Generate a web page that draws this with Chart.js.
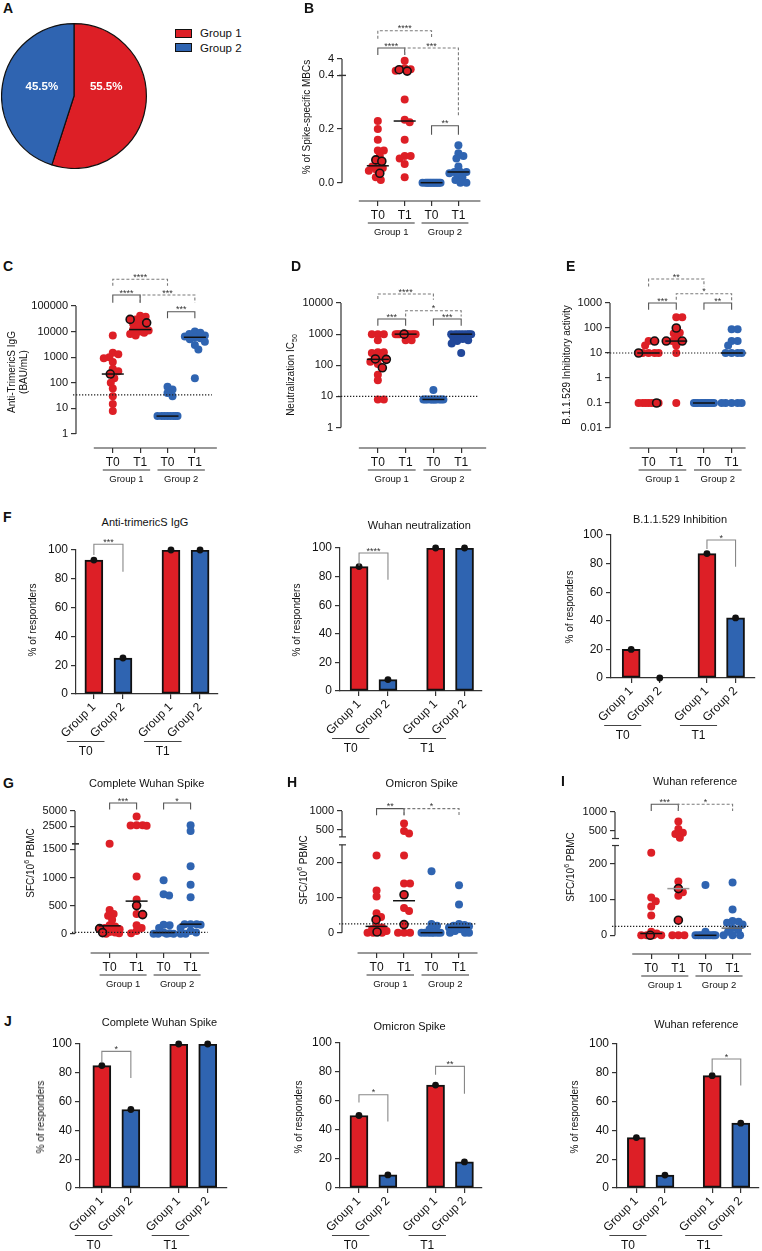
<!DOCTYPE html>
<html>
<head>
<meta charset="utf-8">
<script src="https://cdn.jsdelivr.net/npm/chart.js@4.4.1/dist/chart.umd.min.js"></script>
<style>
body { margin: 0; background: #fff; }
#fig { position: relative; width: 762px; height: 1251px; overflow: hidden; font-family: 'Liberation Sans', Arial, sans-serif; color: #111; }
#fig canvas { position: absolute; }
.lt { position: absolute; font-weight: bold; font-size: 14px; transform: translateY(-50%); }
.ttl { position: absolute; font-size: 11px; transform: translate(-50%, -50%); white-space: nowrap; }
.yt { position: absolute; font-size: 10px; transform: translate(-50%, -50%) rotate(-90deg); white-space: nowrap; text-align: center; line-height: 1.2; }
.yt sub, .yt sup { font-size: 7px; }
.lg { position: absolute; width: 15px; height: 7px; border: 1px solid #111; }
.lgt { position: absolute; font-size: 11.5px; transform: translateY(-50%); }
</style>
</head>
<body>
<div id="fig"></div>
<script>
const RED = '#dd1f26', BLUE = '#2f64b1', NAVY = '#22489a';
const groupNames = ['Group 1', 'Group 2'];
const timeNames = ['T0', 'T1'];

// A - cohort split
const pieShare = [55.5, 45.5];

// B - % of spike-specific MBCs
const mbcTicks = [0, 0.2, 0.4, 4];
const mbcTickLabels = ['0.0', '0.2', '0.4', '4'];
const mbcG1T0 = [0.23, 0.20, 0.16, 0.12, 0.12, 0.10, 0.065, 0.06, 0.055, 0.05, 0.045, 0.02, 0.01];
const mbcG1T1 = [3.5, 1.3, 1.0, 0.6, 0.31, 0.235, 0.225, 0.16, 0.10, 0.10, 0.09, 0.07, 0.02];
const mbcG2T0 = [0, 0, 0, 0, 0, 0, 0, 0, 0, 0, 0, 0];
const mbcG2T1 = [0.14, 0.11, 0.10, 0.09, 0.06, 0.04, 0.04, 0.04, 0.035, 0.03, 0.02, 0.01, 0, 0];
const mbcRinged = [[0.085, 0.08, 0.035], [0.9, 0.5], [], []];
const mbcMedian = [0.063, 0.23, 0, 0.04];

// C - anti-trimericS IgG (BAU/mL)
const iggTicks = [1, 10, 100, 1000, 10000, 100000];
const iggG1T0 = [7000, 1500, 1300, 1000, 900, 650, 350, 280, 150, 100, 60, 30, 15, 8];
const iggG1T1 = [42000, 38000, 30000, 25000, 20000, 16000, 14000, 12000, 11000, 10000, 9000, 8000, 7000];
const iggG2T0 = [70, 55, 40, 30, 5, 5, 5, 5, 5, 5, 5, 5];
const iggG2T1 = [10000, 9000, 8000, 7000, 6500, 6000, 5500, 5000, 4000, 3000, 2000, 150];
const iggRinged = [[220], [30000, 22000], [], []];
const iggMedian = [220, 12000, 5, 6000];
const iggCutoff = 33.8;

// D - neutralization IC50
const nabTicks = [1, 10, 100, 1000, 10000];
const nabG1T0 = [1000, 1000, 1000, 640, 260, 260, 250, 180, 130, 110, 50, 33, 8, 8];
const nabG1T1 = [1000, 1000, 1000, 1000, 1000, 1000, 1000, 1000, 1000, 1000, 640, 640];
const nabG2T0 = [16, 8, 8, 8, 8, 8, 8, 8, 8, 8, 8, 8];
const nabG2T1 = [1000, 1000, 1000, 1000, 1000, 1000, 1000, 1000, 800, 700, 640, 600, 500, 250];
const nabRinged = [[160, 155, 83], [1000], [], []];
const nabMedian = [155, 1000, 8, 1000];
const nabCutoff = 10;

// E - B.1.1.529 inhibitory activity
const omiTicks = [0.01, 0.1, 1, 10, 100, 1000];
const omiTickLabels = ['0.01', '0.1', '1', '10', '100', '1000'];
const omiG1T0 = [30, 20, 10, 10, 10, 10, 0.1, 0.1, 0.1, 0.1, 0.1, 0.1, 0.1];
const omiG1T1 = [270, 270, 65, 60, 40, 30, 20, 10, 0.1];
const omiG2T0 = [0.1, 0.1, 0.1, 0.1, 0.1, 0.1, 0.1, 0.1, 0.1, 0.1, 0.1, 0.1];
const omiG2T1 = [90, 90, 30, 30, 20, 10, 10, 10, 10, 0.1, 0.1, 0.1, 0.1, 0.1];
const omiRinged = [[30, 10, 0.1], [100, 30, 30], [], []];
const omiMedian = [10, 30, 0.1, 10];
const omiCutoff = 10;

// F - % of responders (G1 T0, G2 T0, G1 T1, G2 T1)
const respIgG = [93, 25, 100, 100];
const respNeut = [87, 8, 100, 100];
const respOmi = [20, 0, 87, 42];

// G - SFC, complete Wuhan spike
const sfcTicks = [0, 500, 1000, 1500, 2500, 5000];
const wsG1T0 = [1600, 420, 350, 320, 250, 150, 130, 100, 80, 30, 20, 10, 0];
const wsG1T1 = [4100, 2700, 2700, 2650, 2600, 1020, 610, 350, 150, 100, 50, 10];
const wsG2T0 = [950, 700, 680, 160, 150, 100, 20, 10, 0, 0, 0, 0];
const wsG2T1 = [2700, 1750, 1200, 870, 650, 170, 170, 170, 160, 100, 50, 20, 0, 0];
const wsRinged = [[90, 20], [500, 340], [], []];
const wsMedian = [140, 580, 20, 170];

// H - SFC, omicron spike
const smallSfcTicks = [0, 100, 200, 500, 1000];
const osG1T0 = [220, 120, 103, 55, 45, 20, 15, 10, 5, 0, 0, 0];
const osG1T1 = [660, 460, 390, 220, 140, 140, 70, 62, 0, 0, 0];
const osG2T0 = [175, 25, 20, 10, 5, 0, 0, 0, 0, 0, 0, 0];
const osG2T1 = [135, 80, 25, 22, 20, 18, 15, 10, 5, 0, 0, 0];
const osRinged = [[37, 2], [108, 23], [], []];
const osMedian = [18, 91, 0, 15];

// I - SFC, Wuhan reference
const wrG1T0 = [230, 105, 95, 80, 55, 10, 5, 0, 0, 0, 0];
const wrG1T1 = [750, 550, 450, 420, 320, 150, 120, 110, 0, 0, 0];
const wrG2T0 = [140, 10, 0, 0, 0, 0, 0, 0, 0, 0, 0, 0];
const wrG2T1 = [147, 72, 40, 38, 35, 30, 20, 15, 10, 0, 0, 0];
const wrRinged = [[0], [130, 42], [], []];
const wrMedian = [5, 130, 0, 20];
const sfcCutoff = 25;

// J - % of responders, T cells
const respSpike = [85, 54.5, 100, 100];
const respOmiT = [50, 9, 71, 18];
const respWuRef = [35, 9, 78, 45];

Chart.defaults.font.family = "'Liberation Sans', Arial, sans-serif";
Chart.defaults.color = '#111';
Chart.defaults.animation = false;
Chart.defaults.events = [];
Chart.defaults.responsive = false;
Chart.defaults.devicePixelRatio = 1;
Chart.defaults.plugins.legend.display = false;
Chart.defaults.plugins.tooltip.enabled = false;

// y scale made of stacked linear / log pieces, like a broken GraphPad axis
class GapScale extends Chart.LinearScale {
  static id = 'gap';
  static defaults = {};
  determineDataLimits() {
    const s = this.options.segs;
    this.min = s[0].from;
    this.max = s[s.length - 1].to;
  }
  buildTicks() {
    return this.options.tickVals.map(v => ({ value: v }));
  }
  getPixelForValue(v) {
    const o = this.options, segs = o.segs, gap = o.gap || 0;
    let total = gap * (segs.length - 1);
    for (let i = 0; i < segs.length; i++) total += segs[i].w;
    const k = (this.bottom - this.top - o.padBottom) / total;
    let y = this.bottom - o.padBottom;
    for (let i = 0; i < segs.length; i++) {
      const s = segs[i];
      if (v <= s.to || i === segs.length - 1) {
        const f = s.log ? Math.log10(v / s.from) / Math.log10(s.to / s.from) : (v - s.from) / (s.to - s.from);
        return y - f * s.w * k;
      }
      y -= (s.w + gap) * k;
    }
  }
  getValueForPixel() { return 0; }
}
Chart.register(GapScale);

const fig = document.getElementById('fig');

function addCanvas(x, y, w, h) {
  const c = document.createElement('canvas');
  c.width = Math.round(w);
  c.height = Math.round(h);
  c.style.left = Math.round(x) + 'px';
  c.style.top = Math.round(y) + 'px';
  fig.appendChild(c);
  return c;
}

function txt(cls, x, y, html) {
  const d = document.createElement('div');
  d.className = cls;
  d.style.left = x + 'px';
  d.style.top = y + 'px';
  d.innerHTML = html;
  fig.appendChild(d);
  return d;
}

// beeswarm spread of points that share a column
const swarm = {
  id: 'swarm',
  afterDatasetsUpdate(chart) {
    chart.data.datasets.forEach((ds, i) => {
      if (!ds.swarmR) return;
      const pts = chart.getDatasetMeta(i).data;
      if (!pts.length) return;
      const cx = pts[0].x, md = ds.swarmR * 1.4;
      const cands = [];
      for (let o = 0; o <= ds.swarmW; o += 0.5) { cands.push(o); if (o) cands.push(-o); }
      const placed = [];
      const idx = pts.map((p, k) => k).sort((a, b) => (pts[a].y - pts[b].y) || (a - b));
      idx.forEach(k => {
        const p = pts[k];
        let best = 0, bestD = -1;
        for (const o of cands) {
          let dmin = Infinity;
          for (const q of placed) {
            const d = Math.hypot(cx + o - q.x, p.y - q.y);
            if (d < dmin) dmin = d;
          }
          if (dmin >= md) { best = o; break; }
          if (dmin > bestD) { bestD = dmin; best = o; }
        }
        p.x = cx + best;
        placed.push(p);
      });
    });
  }
};

function drawBrackets(ctx, list, px, top) {
  list.forEach(b => {
    const xa = px(b.a), xb = px(b.b), y = top + b.y;
    ctx.save();
    ctx.lineWidth = 1.1;
    ctx.strokeStyle = b.d ? '#7a7a7a' : (b.c || '#555');
    ctx.setLineDash(b.d ? [3, 2] : []);
    ctx.beginPath();
    ctx.moveTo(xa, y + b.l);
    ctx.lineTo(xa, y);
    ctx.lineTo(xb, y);
    ctx.lineTo(xb, y + b.r);
    ctx.stroke();
    ctx.setLineDash([]);
    ctx.fillStyle = '#333';
    ctx.font = "9px 'Liberation Sans', Arial";
    ctx.textAlign = 'center';
    ctx.textBaseline = 'alphabetic';
    ctx.fillText(b.s, (xa + xb) / 2, y + 0.5);
    ctx.restore();
  });
}

function dotPanel(p) {
  const yW = 50, padT = 52, xH = 46, padR = 4;
  const x3 = p.x0 + 3 * p.dx;
  const right = x3 + p.ext + 2;
  const left = Math.round(p.ax - yW), top = Math.round(p.yTop - padT);
  const W = Math.round(right + padR - left), H = Math.round(p.axis + xH - top);
  const cv = addCanvas(left, top, W, H);
  const aL = left + yW, aR = left + W - padR;
  const xmin = -(p.x0 - aL) / p.dx, xmax = (aR - p.x0) / p.dx;
  const cols = p.colors || [RED, RED, BLUE, BLUE];
  const mcols = p.medianColors || ['#111', '#111', '#111', '#111'];
  const datasets = p.groups.map((vals, g) => {
    const ring = p.rings[g] || [];
    const all = vals.concat(ring);
    return {
      type: 'scatter',
      data: all.map(v => ({ x: g, y: v })),
      pointBackgroundColor: cols[g],
      pointBorderColor: all.map((v, k) => k >= vals.length ? '#111' : cols[g]),
      pointBorderWidth: all.map((v, k) => k >= vals.length ? 1.6 : 0),
      pointRadius: 4,
      swarmR: 4,
      swarmW: p.spread || 10,
      order: 1,
      clip: false
    };
  });
  datasets.push({
    type: 'scatter',
    data: p.medians.map((m, g) => ({ x: g, y: m })),
    pointStyle: 'line',
    pointRadius: 11,
    pointBorderColor: mcols,
    pointBorderWidth: 1.5,
    order: 0,
    clip: false
  });
  const decor = {
    id: 'decor',
    afterDraw(chart) {
      const ctx = chart.ctx, xs = chart.scales.x, ys = chart.scales.y, ca = chart.chartArea;
      ctx.save();
      ctx.strokeStyle = '#333';
      ctx.lineWidth = 1.2;
      // y axis pieces with break marks
      p.segs.forEach((s, i) => {
        const ya = ys.getPixelForValue(s.from), yb = ys.getPixelForValue(s.to);
        ctx.beginPath();
        ctx.moveTo(ca.left, ya);
        ctx.lineTo(ca.left, yb);
        ctx.stroke();
        if (p.segs.length > 1) {
          ctx.beginPath();
          if (i > 0) { ctx.moveTo(ca.left - 3, ya); ctx.lineTo(ca.left + 4, ya); }
          if (i < p.segs.length - 1) { ctx.moveTo(ca.left - 3, yb); ctx.lineTo(ca.left + 4, yb); }
          ctx.stroke();
        }
      });
      // detached x axis
      ctx.beginPath();
      ctx.moveTo(xs.getPixelForValue(0) - 19, ca.bottom);
      ctx.lineTo(xs.getPixelForValue(3) + p.ext, ca.bottom);
      ctx.stroke();
      // cut-off line
      if (p.cutoff !== undefined) {
        const yc = ys.getPixelForValue(p.cutoff);
        ctx.save();
        ctx.setLineDash([1.3, 1.7]);
        ctx.strokeStyle = '#222';
        ctx.beginPath();
        ctx.moveTo(ca.left - 3, yc);
        ctx.lineTo(xs.getPixelForValue(3) + (p.cutExt || 17), yc);
        ctx.stroke();
        ctx.restore();
      }
      // group underlines and names
      ctx.fillStyle = '#111';
      ctx.font = "9.5px 'Liberation Sans', Arial";
      ctx.textAlign = 'center';
      ctx.textBaseline = 'middle';
      [0, 1].forEach(g => {
        const xa = xs.getPixelForValue(2 * g) - 10, xb = xs.getPixelForValue(2 * g + 1) + 10;
        ctx.beginPath();
        ctx.moveTo(xa, ca.bottom + 22);
        ctx.lineTo(xb, ca.bottom + 22);
        ctx.stroke();
        ctx.fillText(groupNames[g], (xa + xb) / 2, ca.bottom + 31);
      });
      ctx.restore();
      drawBrackets(ctx, p.brackets, v => xs.getPixelForValue(v), ca.top);
    }
  };
  new Chart(cv, {
    type: 'scatter',
    data: { datasets },
    options: {
      layout: { padding: { top: padT, right: padR, left: 0, bottom: 0 } },
      scales: {
        x: {
          type: 'linear', min: xmin, max: xmax, offset: false,
          afterBuildTicks: s => { s.ticks = [0, 1, 2, 3].map(v => ({ value: v })); },
          afterFit: s => { s.height = xH; },
          ticks: { callback: (v, i) => timeNames[i % 2], font: { size: 12 }, color: '#111', padding: 2, maxRotation: 0, autoSkip: false },
          grid: { drawOnChartArea: false, drawTicks: true, tickLength: 5, color: '#333', lineWidth: 1.2, offset: false },
          border: { display: false }
        },
        y: {
          type: 'gap', segs: p.segs, gap: p.gap || 0, padBottom: p.axis - p.yBot, tickVals: p.ticks,
          afterFit: s => { s.width = yW; },
          ticks: { callback: (v, i) => p.tickLabels[i], font: { size: 11 }, color: '#111', padding: 3, autoSkip: false },
          grid: { drawOnChartArea: false, drawTicks: true, tickLength: 5, color: '#333', lineWidth: 1.2 },
          border: { display: false }
        }
      }
    },
    plugins: [swarm, decor]
  });
}

const GAP = 2.65;
function barPanel(p) {
  const yW = 50, padT = 22, xH = 80, padR = 3;
  const xpos = [0, 1, GAP, GAP + 1];
  const right = p.c0 + (GAP + 1) * p.dx + p.ext;
  const left = Math.round(p.ax - yW), top = Math.round(p.y100 - padT);
  const W = Math.round(right + padR - left), H = Math.round(p.y0 + xH - top);
  const cv = addCanvas(left, top, W, H);
  const aL = left + yW, aR = left + W - padR;
  const xmin = -(p.c0 - aL) / p.dx, xmax = (aR - p.c0) / p.dx;
  const pts = p.values.map((v, i) => ({ x: xpos[i], y: v }));
  const decor = {
    id: 'decor',
    afterDraw(chart) {
      const ctx = chart.ctx, xs = chart.scales.x, ca = chart.chartArea;
      ctx.save();
      ctx.strokeStyle = '#444';
      ctx.lineWidth = 1.2;
      ctx.fillStyle = '#111';
      ctx.font = "12px 'Liberation Sans', Arial";
      ctx.textAlign = 'center';
      ctx.textBaseline = 'middle';
      [0, 1].forEach(t => {
        const xa = xs.getPixelForValue(xpos[2 * t]) - 27, xb = xs.getPixelForValue(xpos[2 * t + 1]) - 18.5;
        ctx.beginPath();
        ctx.moveTo(xa, ca.bottom + 47.5);
        ctx.lineTo(xb, ca.bottom + 47.5);
        ctx.stroke();
        ctx.fillText(timeNames[t], (xa + xb) / 2, ca.bottom + 57.5);
      });
      ctx.restore();
      drawBrackets(ctx, p.brackets, i => xs.getPixelForValue(xpos[i]), ca.top);
    }
  };
  new Chart(cv, {
    type: 'bar',
    data: {
      datasets: [
        { type: 'bar', data: pts, backgroundColor: [RED, BLUE, RED, BLUE], borderColor: '#111', borderWidth: 2, borderSkipped: false, barThickness: 18, order: 1 },
        { type: 'scatter', data: pts, pointRadius: 3.4, pointBackgroundColor: '#111', pointBorderWidth: 0, order: 0, clip: false }
      ]
    },
    options: {
      layout: { padding: { top: padT, right: padR, left: 0, bottom: 0 } },
      scales: {
        x: {
          type: 'linear', min: xmin, max: xmax, offset: false,
          afterBuildTicks: s => { s.ticks = xpos.map(v => ({ value: v })); },
          afterFit: s => { s.height = xH; },
          ticks: { callback: (v, i) => groupNames[i % 2], font: { size: 12 }, color: '#111', padding: 1, minRotation: 45, maxRotation: 45, autoSkip: false },
          grid: { drawOnChartArea: false, drawTicks: true, tickLength: 5, color: '#333', lineWidth: 1.2, offset: false },
          border: { display: true, color: '#333', width: 1.2 }
        },
        y: {
          type: 'linear', min: 0, max: 100,
          afterFit: s => { s.width = yW; },
          ticks: { stepSize: 20, font: { size: 12 }, color: '#111', padding: 3 },
          grid: { drawOnChartArea: false, drawTicks: true, tickLength: 5, color: '#333', lineWidth: 1.2 },
          border: { display: true, color: '#333', width: 1.2 }
        }
      }
    },
    plugins: [decor]
  });
}

// ---------- A ----------
const pieLabels = {
  id: 'pieLabels',
  afterDatasetsDraw(chart) {
    const ctx = chart.ctx;
    ctx.save();
    ctx.fillStyle = '#fff';
    ctx.font = "bold 11.5px 'Liberation Sans', Arial";
    ctx.textAlign = 'center';
    ctx.textBaseline = 'middle';
    chart.getDatasetMeta(0).data.forEach((arc, i) => {
      const a = arc.getProps(['x', 'y', 'startAngle', 'endAngle', 'outerRadius'], true);
      const mid = (a.startAngle + a.endAngle) / 2;
      ctx.fillText(pieShare[i].toFixed(1) + '%', a.x + Math.cos(mid) * a.outerRadius * 0.45, a.y - 9);
    });
    ctx.restore();
  }
};
new Chart(addCanvas(1, 23, 146, 146), {
  type: 'pie',
  data: { labels: groupNames, datasets: [{ data: pieShare, backgroundColor: [RED, BLUE], borderColor: '#111', borderWidth: 1.2 }] },
  options: { layout: { padding: 0 } },
  plugins: [pieLabels]
});

// ---------- B ----------
dotPanel({
  ax: 342, yTop: 59.3, yBot: 182.7, axis: 201, x0: 380, dx: 28.5, ext: 22,
  segs: [{ from: 0, to: 0.4, w: 107 }, { from: 0.4, to: 4, w: 12.4 }], gap: 4,
  ticks: mbcTicks, tickLabels: mbcTickLabels,
  groups: [mbcG1T0, mbcG1T1, mbcG2T0, mbcG2T1], rings: mbcRinged, medians: mbcMedian, spread: 9,
  brackets: [
    { a: 0, b: 2, y: -28.3, l: 8, r: 8, s: '****', d: true },
    { a: 0, b: 1, y: -11, l: 7, r: 7, s: '****' },
    { a: 1, b: 3, y: -11, l: 7, r: 68.4, s: '***', d: true },
    { a: 2, b: 3, y: 66.7, l: 9, r: 9, s: '**' }
  ]
});

// ---------- C ----------
dotPanel({
  ax: 76, yTop: 306, yBot: 434, axis: 448, x0: 115, dx: 29, ext: 22,
  segs: [{ from: 1, to: 100000, w: 128, log: true }],
  ticks: iggTicks, tickLabels: iggTicks.map(String),
  groups: [iggG1T0, iggG1T1, iggG2T0, iggG2T1], rings: iggRinged, medians: iggMedian, cutoff: iggCutoff,
  brackets: [
    { a: 0, b: 2, y: -26.7, l: 6.4, r: 6.4, s: '****', d: true },
    { a: 0, b: 1, y: -11, l: 7.7, r: 7.7, s: '****' },
    { a: 1, b: 3, y: -11, l: 7.7, r: 7.7, s: '***', d: true },
    { a: 2, b: 3, y: 5.7, l: 6.6, r: 6.6, s: '***' }
  ]
});

// ---------- D ----------
dotPanel({
  ax: 341, yTop: 303.3, yBot: 427.3, axis: 447.7, x0: 380, dx: 29.4, ext: 25,
  segs: [{ from: 1, to: 10000, w: 124, log: true }],
  ticks: nabTicks, tickLabels: nabTicks.map(String),
  groups: [nabG1T0, nabG1T1, nabG2T0, nabG2T1], rings: nabRinged, medians: nabMedian, cutoff: nabCutoff,
  colors: [RED, RED, BLUE, NAVY],
  brackets: [
    { a: 0, b: 2, y: -9, l: 5, r: 5.7, s: '****', d: true },
    { a: 0, b: 1, y: 16, l: 6.7, r: 6.7, s: '***' },
    { a: 1, b: 3, y: 7.7, l: 5.7, r: 5.7, s: '*', d: true },
    { a: 2, b: 3, y: 16, l: 6.7, r: 6.7, s: '***' }
  ]
});

// ---------- E ----------
dotPanel({
  ax: 610, yTop: 303.3, yBot: 427.7, axis: 447.7, x0: 651, dx: 29.4, ext: 14, cutExt: 16,
  segs: [{ from: 0.01, to: 1000, w: 124.4, log: true }],
  ticks: omiTicks, tickLabels: omiTickLabels,
  groups: [omiG1T0, omiG1T1, omiG2T0, omiG2T1], rings: omiRinged, medians: omiMedian, cutoff: omiCutoff,
  brackets: [
    { a: 0, b: 2, y: -24, l: 7.4, r: 7.4, s: '**', d: true },
    { a: 0, b: 1, y: 0, l: 6.7, r: 6.7, s: '***' },
    { a: 1, b: 3, y: -9.3, l: 6, r: 7.7, s: '*', d: true },
    { a: 2, b: 3, y: 0, l: 6.7, r: 6.7, s: '**' }
  ]
});

// ---------- F ----------
barPanel({ ax: 76, y100: 550, y0: 693.5, c0: 94, dx: 29.3, ext: 18, values: respIgG,
  brackets: [{ a: 0, b: 1, y: -5.7, l: 10.7, r: 27.4, s: '***', c: '#888' }] });
barPanel({ ax: 340, y100: 548.3, y0: 691.2, c0: 359.2, dx: 29.1, ext: 18, values: respNeut,
  brackets: [{ a: 0, b: 1, y: 5, l: 12.7, r: 26.7, s: '****', c: '#888' }] });
barPanel({ ax: 611, y100: 535, y0: 678.3, c0: 631.3, dx: 28.8, ext: 20, values: respOmi,
  brackets: [{ a: 2, b: 3, y: 5, l: 9, r: 26.7, s: '*', c: '#888' }] });

// ---------- G ----------
dotPanel({
  ax: 75, yTop: 810.7, yBot: 934, axis: 953.3, x0: 111.8, dx: 28.7, ext: 18.5,
  segs: [{ from: 0, to: 1600, w: 90.4 }, { from: 1600, to: 5000, w: 21 }], gap: 12,
  ticks: sfcTicks, tickLabels: sfcTicks.map(String),
  groups: [wsG1T0, wsG1T1, wsG2T0, wsG2T1], rings: wsRinged, medians: wsMedian, cutoff: sfcCutoff,
  brackets: [
    { a: 0, b: 1, y: -8, l: 6.6, r: 6.6, s: '***' },
    { a: 2, b: 3, y: -8, l: 6.6, r: 6.6, s: '*' }
  ]
});

// ---------- H ----------
dotPanel({
  ax: 341.7, yTop: 810.7, yBot: 933, axis: 953.3, x0: 378.7, dx: 29.2, ext: 18.5,
  segs: [{ from: 0, to: 250, w: 88.25 }, { from: 300, to: 1000, w: 26 }], gap: 8,
  ticks: smallSfcTicks, tickLabels: smallSfcTicks.map(String),
  groups: [osG1T0, osG1T1, osG2T0, osG2T1], rings: osRinged, medians: osMedian, cutoff: sfcCutoff,
  brackets: [
    { a: 0, b: 1, y: -2.4, l: 6.7, r: 6.7, s: '**' },
    { a: 1, b: 3, y: -2.4, l: 6.7, r: 6.7, s: '*', d: true }
  ]
});

// ---------- I ----------
dotPanel({
  ax: 615, yTop: 811.7, yBot: 935.3, axis: 954, x0: 653.5, dx: 28.8, ext: 18.5,
  segs: [{ from: 0, to: 250, w: 90 }, { from: 300, to: 1000, w: 26.6 }], gap: 7,
  ticks: smallSfcTicks, tickLabels: smallSfcTicks.map(String),
  groups: [wrG1T0, wrG1T1, wrG2T0, wrG2T1], rings: wrRinged, medians: wrMedian, cutoff: sfcCutoff,
  medianColors: ['#111', '#999', '#111', '#666'],
  brackets: [
    { a: 0, b: 1, y: -7.7, l: 6.7, r: 6.7, s: '***' },
    { a: 1, b: 3, y: -7.7, l: 6.7, r: 6.7, s: '*', d: true }
  ]
});

// ---------- J ----------
barPanel({ ax: 80.2, y100: 1044.3, y0: 1188.3, c0: 102, dx: 29.2, ext: 19, values: respSpike,
  brackets: [{ a: 0, b: 1, y: 7.4, l: 11, r: 26.6, s: '*', c: '#888' }] });
barPanel({ ax: 340.1, y100: 1043.3, y0: 1187.7, c0: 359.1, dx: 29.1, ext: 18, values: respOmiT,
  brackets: [
    { a: 0, b: 1, y: 51.7, l: 7.7, r: 26.7, s: '*', c: '#888' },
    { a: 2, b: 3, y: 23.4, l: 8.3, r: 27.3, s: '**', c: '#888' }
  ] });
barPanel({ ax: 617.1, y100: 1044.3, y0: 1188.3, c0: 636.5, dx: 28.8, ext: 18, values: respWuRef,
  brackets: [{ a: 2, b: 3, y: 15, l: 13.4, r: 26.4, s: '*', c: '#888' }] });

// ---------- text ----------
[['A', 3, 8], ['B', 304, 8], ['C', 3, 266], ['D', 291, 266], ['E', 566, 266], ['F', 3, 517],
 ['G', 3, 783], ['H', 287, 782], ['I', 561, 781], ['J', 4, 1021]].forEach(l => txt('lt', l[1], l[2], l[0]));

txt('lg', 175, 29, '').style.background = RED;
txt('lg', 175, 43, '').style.background = BLUE;
txt('lgt', 200, 33, groupNames[0]);
txt('lgt', 200, 47.5, groupNames[1]);

txt('ttl', 145, 521.7, 'Anti-trimericS IgG');
txt('ttl', 419.3, 525, 'Wuhan neutralization');
txt('ttl', 680, 519.3, 'B.1.1.529 Inhibition');
txt('ttl', 146.7, 782.7, 'Complete Wuhan Spike');
txt('ttl', 421.7, 783.3, 'Omicron Spike');
txt('ttl', 695, 780.7, 'Wuhan reference');
txt('ttl', 159.4, 1021.7, 'Complete Wuhan Spike');
txt('ttl', 409.6, 1026, 'Omicron Spike');
txt('ttl', 696.3, 1024.3, 'Wuhan reference');

txt('yt', 306.7, 117, '% of Spike-specific MBCs');
txt('yt', 18, 372, 'Anti-TrimericS IgG<br>(BAU/mL)');
txt('yt', 291.7, 375, 'Neutralization IC<sub>50</sub>');
txt('yt', 566.7, 365, 'B.1.1.529 Inhibitory activity');
txt('yt', 33, 620, '% of responders');
txt('yt', 296.7, 620, '% of responders');
txt('yt', 570, 606.7, '% of responders');
txt('yt', 30, 863, 'SFC/10<sup>6</sup> PBMC');
txt('yt', 303.3, 870, 'SFC/10<sup>6</sup> PBMC');
txt('yt', 570, 866.7, 'SFC/10<sup>6</sup> PBMC');
txt('yt', 41.3, 1116.7, '% of responders');
txt('yt', 298.8, 1116.7, '% of responders');
txt('yt', 574.8, 1116.7, '% of responders');
</script>
</body>
</html>
